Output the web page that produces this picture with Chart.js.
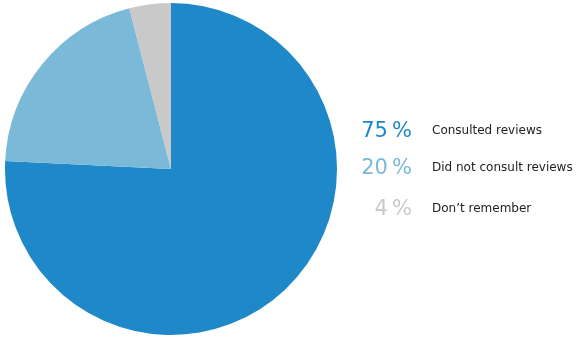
<!DOCTYPE html>
<html><head><meta charset="utf-8">
<script src="https://cdn.jsdelivr.net/npm/chart.js@4"></script>
<style>html,body{margin:0;padding:0;background:#fff;}#wrap{position:relative;width:580px;height:351px;}</style>
</head><body><div id="wrap"><canvas id="c" width="580" height="351"></canvas></div>
<script>
const categories = ["Consulted reviews", "Did not consult reviews", "Don\u2019t remember"];
const values = [75, 20, 4];
const percentLabels = ["75\u2009%", "20\u2009%", "4\u2009%"];
const colors = ["#1e88c8", "#7bb9d9", "#c9c9c9"];

const legendPlugin = {
  id: 'sideLegend',
  afterDraw(chart) {
    const ctx = chart.ctx;
    const rows = [131, 168, 209];
    ctx.save();
    ctx.textBaseline = 'middle';
    categories.forEach((cat, i) => {
      ctx.font = 'normal 21px "DejaVu Sans"';
      ctx.fillStyle = colors[i];
      ctx.textAlign = 'right';
      ctx.fillText(percentLabels[i], 412, rows[i] + 1);
      ctx.font = '12px "DejaVu Sans"';
      ctx.fillStyle = '#222';
      ctx.textAlign = 'left';
      ctx.fillText(cat, 432, rows[i]);
    });
    ctx.restore();
  }
};

new Chart(document.getElementById('c'), {
  type: 'pie',
  data: { labels: categories, datasets: [{ data: values, backgroundColor: colors, borderWidth: 0 }] },
  options: {
    responsive: false, animation: false,
    layout: { padding: { left: 5, top: 3, right: 243, bottom: 16 } },
    plugins: { legend: { display: false }, tooltip: { enabled: false } }
  },
  plugins: [legendPlugin]
});
</script></body></html>
